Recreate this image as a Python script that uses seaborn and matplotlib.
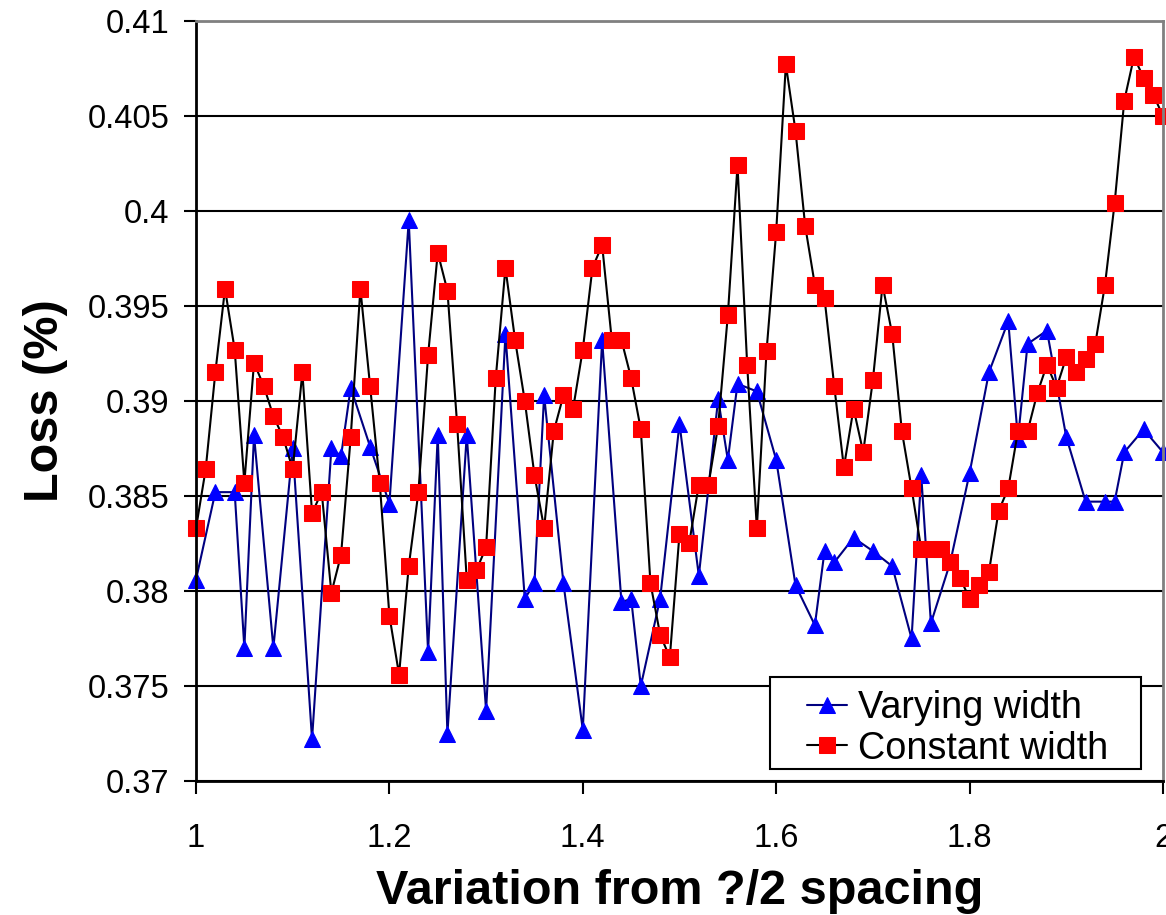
import matplotlib
matplotlib.use("Agg")
import matplotlib.pyplot as plt
from matplotlib.patches import Rectangle
from matplotlib.ticker import FuncFormatter
import seaborn as sns

# "Constant width" series, one point every 0.01
const_x = [
    1.00, 1.01, 1.02, 1.03, 1.04, 1.05, 1.06, 1.07, 1.08, 1.09,
    1.10, 1.11, 1.12, 1.13, 1.14, 1.15, 1.16, 1.17, 1.18, 1.19,
    1.20, 1.21, 1.22, 1.23, 1.24, 1.25, 1.26, 1.27, 1.28, 1.29,
    1.30, 1.31, 1.32, 1.33, 1.34, 1.35, 1.36, 1.37, 1.38, 1.39,
    1.40, 1.41, 1.42, 1.43, 1.44, 1.45, 1.46, 1.47, 1.48, 1.49,
    1.50, 1.51, 1.52, 1.53, 1.54, 1.55, 1.56, 1.57, 1.58, 1.59,
    1.60, 1.61, 1.62, 1.63, 1.64, 1.65, 1.66, 1.67, 1.68, 1.69,
    1.70, 1.71, 1.72, 1.73, 1.74, 1.75, 1.76, 1.77, 1.78, 1.79,
    1.80, 1.81, 1.82, 1.83, 1.84, 1.85, 1.86, 1.87, 1.88, 1.89,
    1.90, 1.91, 1.92, 1.93, 1.94, 1.95, 1.96, 1.97, 1.98, 1.99,
    2.00,
]
const_loss = [
    0.3833, 0.3864, 0.3915, 0.3959, 0.3927, 0.3857, 0.3920, 0.3908, 0.3892, 0.3881,
    0.3864, 0.3915, 0.3841, 0.3852, 0.3799, 0.3819, 0.3881, 0.3959, 0.3908, 0.3857,
    0.3787, 0.3756, 0.3813, 0.3852, 0.3924, 0.3978, 0.3958, 0.3888, 0.3806, 0.3811,
    0.3823, 0.3912, 0.3970, 0.3932, 0.3900, 0.3861, 0.3833, 0.3884, 0.3903, 0.3896,
    0.3927, 0.3970, 0.3982, 0.3932, 0.3932, 0.3912, 0.3885, 0.3804, 0.3777, 0.3765,
    0.3830, 0.3825, 0.3856, 0.3856, 0.3887, 0.3945, 0.4024, 0.3919, 0.3833, 0.3926,
    0.3989, 0.4077, 0.4042, 0.3992, 0.3961, 0.3954, 0.3908, 0.3865, 0.3896, 0.3873,
    0.3911, 0.3961, 0.3935, 0.3884, 0.3854, 0.3822, 0.3822, 0.3822, 0.3815, 0.3807,
    0.3796, 0.3803, 0.3810, 0.3842, 0.3854, 0.3884, 0.3884, 0.3904, 0.3919, 0.3907,
    0.3923, 0.3915, 0.3922, 0.3930, 0.3961, 0.4004, 0.4058, 0.4081, 0.4070, 0.4061,
    0.4050,
]

# "Varying width" series
vary_x = [
    1.00, 1.02, 1.04, 1.05, 1.06, 1.08, 1.10, 1.12, 1.14, 1.15, 1.16, 1.18,
    1.20, 1.22, 1.24, 1.25, 1.26, 1.28, 1.30, 1.32, 1.34, 1.35, 1.36, 1.38,
    1.40, 1.42, 1.44, 1.45, 1.46, 1.48, 1.50, 1.52, 1.54, 1.55, 1.56, 1.58,
    1.60, 1.62, 1.64, 1.65, 1.66, 1.68, 1.70, 1.72, 1.74, 1.75, 1.76, 1.78,
    1.80, 1.82, 1.84, 1.85, 1.86, 1.88, 1.90, 1.92, 1.94, 1.95, 1.96, 1.98,
    2.00,
]
vary_loss = [
    0.3806, 0.3852, 0.3852, 0.3770, 0.3882, 0.3770, 0.3875, 0.3722, 0.3875, 0.3871, 0.3907, 0.3876,
    0.3846, 0.3995, 0.3768, 0.3882, 0.3725, 0.3882, 0.3737, 0.3935, 0.3796, 0.3804, 0.3903, 0.3804,
    0.3727, 0.3932, 0.3794, 0.3796, 0.3750, 0.3796, 0.3888, 0.3808, 0.3901, 0.3869, 0.3909, 0.3905,
    0.3869, 0.3803, 0.3782, 0.3821, 0.3815, 0.3828, 0.3821, 0.3813, 0.3775, 0.3861, 0.3783, 0.3815,
    0.3862, 0.3915, 0.3942, 0.3880, 0.3930, 0.3937, 0.3881, 0.3847, 0.3847, 0.3847, 0.3873, 0.3885,
    0.3873,
]

x_ticks = [1, 1.2, 1.4, 1.6, 1.8, 2]
y_ticks = [0.37, 0.375, 0.38, 0.385, 0.39, 0.395, 0.4, 0.405, 0.41]

sns.set_style("white")
plt.rcParams["font.family"] = ["Liberation Sans", "DejaVu Sans"]
plt.rcParams["text.color"] = "black"
plt.rcParams["axes.labelcolor"] = "black"
plt.rcParams["xtick.color"] = "black"
plt.rcParams["ytick.color"] = "black"

fig = plt.figure(figsize=(11.66, 9.15), dpi=100)
ax = fig.add_axes([0.1681, 0.1464, 0.8293, 0.8309])

sns.lineplot(
    x=vary_x, y=vary_loss, ax=ax, estimator=None, sort=False,
    color="#000080", linewidth=1.5, marker="^", markersize=12,
    markerfacecolor="#0000FF", markeredgecolor="#0000FF",
    label="Varying width", clip_on=False,
)
sns.lineplot(
    x=const_x, y=const_loss, ax=ax, estimator=None, sort=False,
    color="black", linewidth=1.5, marker="s", markersize=11,
    markerfacecolor="#FF0000", markeredgecolor="#FF0000",
    label="Constant width", clip_on=False,
)

ax.set_xlim(1, 2)
ax.set_ylim(0.37, 0.41)
ax.set_xticks(x_ticks)
ax.set_yticks(y_ticks)
fmt = FuncFormatter(lambda v, p: "{:g}".format(round(v, 4)))
ax.xaxis.set_major_formatter(fmt)
ax.yaxis.set_major_formatter(fmt)

ax.yaxis.grid(True, color="black", linewidth=1.5)
ax.xaxis.grid(False)
ax.set_axisbelow(True)

for side in ["left", "bottom"]:
    ax.spines[side].set_color("black")
    ax.spines[side].set_linewidth(2)
for side in ["top", "right"]:
    ax.spines[side].set_color("#808080")
    ax.spines[side].set_linewidth(2)

ax.tick_params(axis="both", direction="out", length=9, width=1.5,
               color="black", labelcolor="black", labelsize=23.5,
               bottom=True, left=True)
ax.tick_params(axis="x", pad=21)
ax.tick_params(axis="y", pad=10)

ax.set_xlabel("Variation from ?/2 spacing", fontsize=35, fontweight="bold", labelpad=11)
ax.set_ylabel("Loss (%)", fontsize=35, fontweight="bold", labelpad=14)

# legend box drawn separately so it can keep the wide side padding
box = Rectangle((770 / 1166, 1 - 769 / 915), 371 / 1166, 92 / 915,
                transform=fig.transFigure, facecolor="white",
                edgecolor="black", linewidth=1.5, zorder=4.9, clip_on=False)
ax.add_patch(box)
leg = ax.legend(
    loc="upper left", bbox_to_anchor=(807 / 1166, 1 - 690 / 915),
    bbox_transform=fig.transFigure, fontsize=27.2, frameon=False,
    handlelength=1.05, handletextpad=0.3, borderpad=0, labelspacing=0.12,
    borderaxespad=0,
)
leg.set_zorder(5)

fig.savefig("out.png", dpi=100)
